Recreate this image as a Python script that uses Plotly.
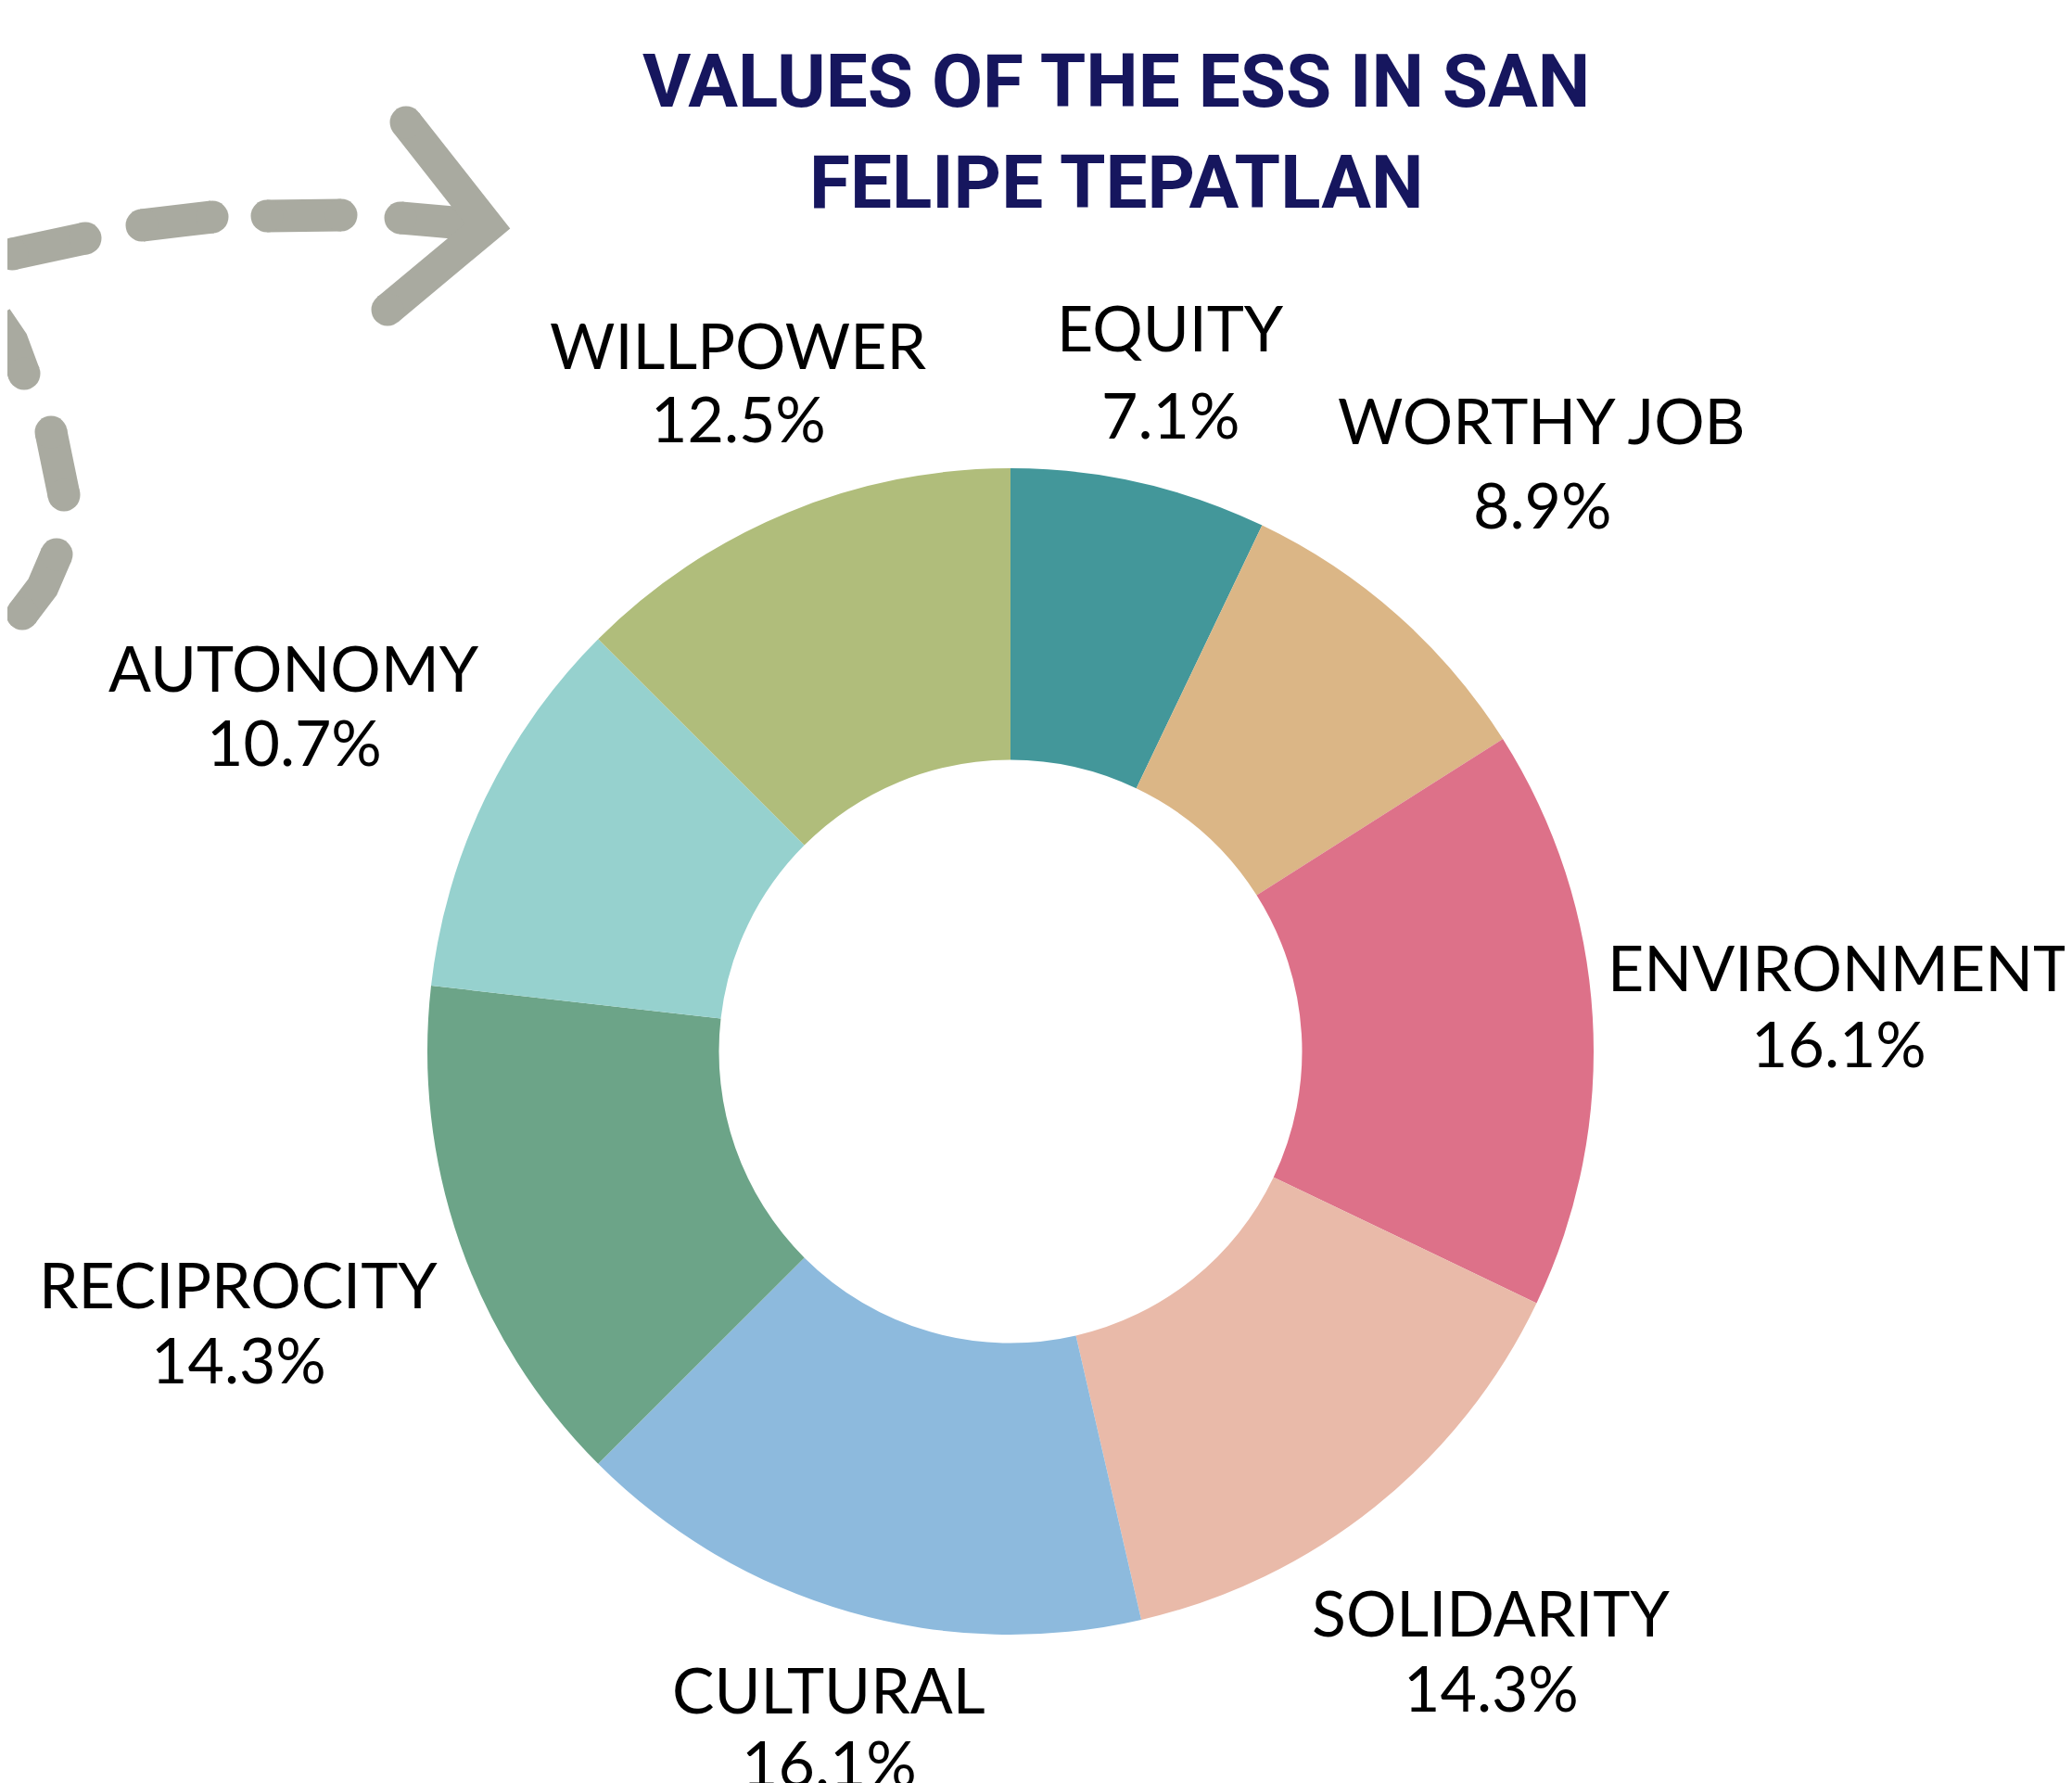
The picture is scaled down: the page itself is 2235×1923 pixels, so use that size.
import plotly.graph_objects as go

# ---- data ----
categories = ["EQUITY", "WORTHY JOB", "ENVIRONMENT", "SOLIDARITY",
              "CULTURAL", "RECIPROCITY", "AUTONOMY", "WILLPOWER"]
percent_values = [7.1, 8.9, 16.1, 14.3, 16.1, 14.3, 10.7, 12.5]
slice_colors = ["#43979A", "#DBB686", "#DD7189", "#E9BAA9",
                "#8DBADD", "#6CA488", "#96D1CE", "#B0BD7B"]
title_lines = ["VALUES OF THE ESS IN SAN", "FELIPE TEPATLAN"]

# ---- layout (pixel positions, styling) ----
W, H = 2235, 1923
cx, cy, R = 1082, 1126, 629
label_pos = {  # (x, y_name, y_pct)
    "EQUITY": (1254, 344, 438),
    "WORTHY JOB": (1655, 444, 535),
    "ENVIRONMENT": (1975, 1034, 1116),
    "SOLIDARITY": (1600, 1730, 1811),
    "CULTURAL": (886, 1813, 1892),
    "RECIPROCITY": (249, 1376, 1457),
    "AUTONOMY": (309, 711, 791),
    "WILLPOWER": (788, 363, 442),
}
arrow_dashes = [
    [(5, 266), (45, 257), (84, 249)],
    [(145, 235), (183, 230), (221, 226)],
    [(280, 225), (320, 224), (360, 224)],
    [(424, 227), (470, 230), (515, 235)],
    [(-12, 335), (5, 360), (18, 395)],
    [(47, 458), (56, 492), (61, 526)],
    [(53, 590), (38, 625), (16, 654)],
]
arrow_head = [(430, 124), (518, 236), (410, 326)]
arrow_color = "#A9AAA0"
arrow_w = 35

fig = go.Figure()

fig.add_trace(go.Pie(
    labels=categories, values=percent_values, sort=False,
    direction="clockwise", rotation=0, hole=0.5,
    marker=dict(colors=slice_colors, line=dict(width=0)),
    textinfo="none", showlegend=False,
    domain=dict(x=[(cx - R) / W, (cx + R) / W],
                y=[1 - (cy + R) / H, 1 - (cy - R) / H]),
))

def add_stroke(pts):
    xs = [p[0] for p in pts]
    ys = [p[1] for p in pts]
    sizes = [arrow_w] + [0] * (len(pts) - 2) + [arrow_w]
    fig.add_trace(go.Scatter(
        x=xs, y=ys, mode="lines+markers",
        line=dict(color=arrow_color, width=arrow_w),
        marker=dict(color=arrow_color, size=sizes, opacity=1,
                    line=dict(width=0, color=arrow_color)),
        hoverinfo="skip", showlegend=False, cliponaxis=False,
    ))

for d in arrow_dashes:
    add_stroke(d)
add_stroke(arrow_head)

label_font = dict(family="Lato", size=68, color="#000000")
annotations = []
for cat, val in zip(categories, percent_values):
    x, yn, yp = label_pos[cat]
    annotations.append(dict(x=x, y=yn, xref="x", yref="y", text=cat,
                            showarrow=False, font=label_font,
                            xanchor="center", yanchor="middle"))
    annotations.append(dict(x=x, y=yp, xref="x", yref="y", text=f"{val}%",
                            showarrow=False, font=label_font,
                            xanchor="center", yanchor="middle"))

title_font = dict(family="Roboto", size=80, color="#16165E", weight="bold")
for t, ty in zip(title_lines, [80, 189]):
    annotations.append(dict(x=1196, y=ty, xref="x", yref="y", text=t,
                            showarrow=False, font=title_font,
                            xanchor="center", yanchor="middle"))

fig.update_layout(
    width=W, height=H,
    margin=dict(l=0, r=0, t=0, b=0),
    paper_bgcolor="white", plot_bgcolor="rgba(0,0,0,0)",
    xaxis=dict(range=[0, W], visible=False, domain=[0, 1], fixedrange=True),
    yaxis=dict(range=[H, 0], visible=False, domain=[0, 1], fixedrange=True),
    annotations=annotations,
)

fig.write_html("out.html")
